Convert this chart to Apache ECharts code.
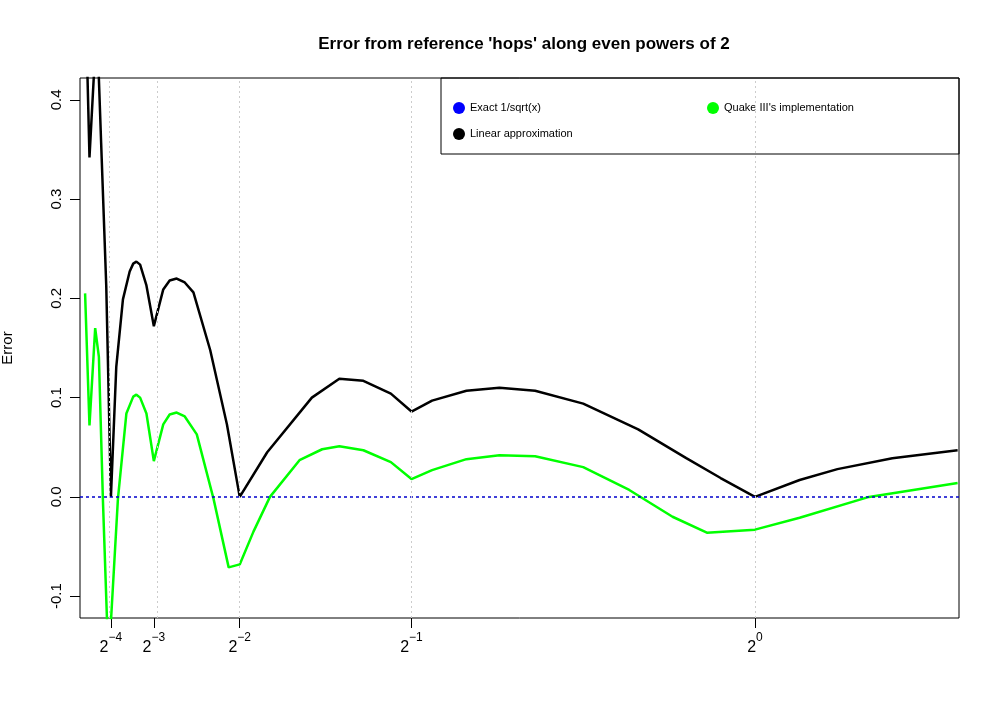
<!DOCTYPE html>
<html>
<head>
<meta charset="UTF-8">
<script src="https://cdn.jsdelivr.net/npm/echarts@6/dist/echarts.min.js"></script>
<style>html,body{margin:0;padding:0;background:#fff}#c{width:1000px;height:715px}</style>
</head>
<body>
<div id="c"></div>
<script>
// values
const linearX = [0.0264,0.0313,0.0420,0.0483,0.0557,0.0625,0.0703,0.0800,0.0898,0.0950,0.0996,0.1050,0.1142,0.1250,0.1387,0.1480,0.1582,0.1700,0.1826,0.2070,0.2314,0.25,0.29,0.355,0.395,0.43,0.47,0.5,0.53,0.58,0.628,0.68,0.75,0.83,0.9,0.95,1.0,1.065,1.12,1.2,1.295];
const linearY = [0.48,0.342,0.48,0.356,0.213,0.0,0.131,0.199,0.227,0.235,0.237,0.234,0.213,0.172,0.209,0.218,0.220,0.216,0.206,0.148,0.073,0.0,0.045,0.100,0.119,0.117,0.104,0.086,0.097,0.107,0.110,0.107,0.094,0.068,0.039,0.019,0.0,0.017,0.028,0.039,0.047];
const quakeX = [0.0249,0.0313,0.0396,0.0450,0.0508,0.0566,0.0600,0.0630,0.0727,0.0850,0.0950,0.0996,0.1050,0.1142,0.1250,0.1387,0.1480,0.1582,0.1700,0.1875,0.2119,0.2339,0.25,0.27,0.294,0.337,0.37,0.395,0.43,0.47,0.5,0.53,0.58,0.628,0.68,0.75,0.817,0.88,0.93,1.0,1.065,1.166,1.295];
const quakeY = [0.205,0.072,0.170,0.141,-0.002,-0.12,-0.2,-0.12,-0.002,0.084,0.101,0.103,0.100,0.084,0.036,0.073,0.083,0.085,0.081,0.063,-0.002,-0.071,-0.068,-0.035,0.0,0.037,0.048,0.051,0.047,0.035,0.018,0.027,0.038,0.042,0.041,0.030,0.007,-0.020,-0.036,-0.033,-0.021,0.0,0.014];
const xTicks = [0.0625,0.125,0.25,0.5,1];
const xTickLabels = ['−4','−3','−2','−1','0'];
const yTicks = [-0.1,0,0.1,0.2,0.3,0.4];

const zip = (a,b)=>a.map((v,i)=>[v,b[i]]);
const chart = echarts.init(document.getElementById('c'));
const font = 'Liberation Sans, Arial, sans-serif';
chart.setOption({
  animation:false,
  title:{text:"Error from reference 'hops' along even powers of 2",left:519,top:31,textAlign:'center',
    textStyle:{fontFamily:font,fontSize:17,fontWeight:'bold',color:'#000'}},
  grid:{left:80,right:41,top:78,bottom:97,show:true,borderColor:'#000',borderWidth:1,outerBoundsMode:'none',containLabel:false},
  legend:[
    {data:['Exact 1/sqrt(x)'],left:448,top:97,icon:'circle',itemWidth:12,itemHeight:12,textStyle:{fontFamily:font,fontSize:11,color:'#000'}},
    {data:['Quake III\'s implementation'],left:702,top:97,icon:'circle',itemWidth:12,itemHeight:12,textStyle:{fontFamily:font,fontSize:11,color:'#000'}},
    {data:['Linear approximation'],left:448,top:123,icon:'circle',itemWidth:12,itemHeight:12,textStyle:{fontFamily:font,fontSize:11,color:'#000'}}
  ],
  graphic:[{type:'rect',shape:{x:441,y:78,width:518,height:76},style:{fill:'none',stroke:'#000',lineWidth:1},z:100}],
  xAxis:{type:'value',min:0.0175,max:1.297,
    axisLine:{show:false,onZero:false},splitLine:{show:false},
    axisTick:{show:true,length:10,customValues:xTicks,lineStyle:{color:'#000'}},
    axisLabel:{customValues:xTicks,margin:14,fontFamily:font,
      formatter:v=>{const i=xTicks.findIndex(t=>Math.abs(t-v)<1e-9);return '{b|2}{s|'+xTickLabels[i]+'}';},
      rich:{b:{fontSize:16,fontFamily:font,color:'#000',padding:[8,0,0,0]},s:{fontSize:12,fontFamily:font,color:'#000',verticalAlign:'top',padding:[0,0,8,0]}}}},
  yAxis:{type:'value',min:-0.122,max:0.422,name:'Error',nameLocation:'middle',nameGap:65,nameRotate:90,
    nameTextStyle:{fontFamily:font,fontSize:15,color:'#000'},
    axisLine:{show:false,onZero:false},splitLine:{show:false},
    axisTick:{show:true,length:10,customValues:yTicks,lineStyle:{color:'#000'}},
    axisLabel:{customValues:yTicks,rotate:90,margin:16,fontFamily:font,fontSize:15,color:'#000',
      formatter:v=>v.toFixed(1)}},
  series:[
    {name:'Exact 1/sqrt(x)',type:'line',data:[],itemStyle:{color:'#0000ff'},showSymbol:false,
      markLine:{silent:true,symbol:'none',label:{show:false},
        data:[{yAxis:0,lineStyle:{color:'#0000cc',type:[3,3],width:1.5}}].concat(
          xTicks.map(t=>({xAxis:t,lineStyle:{color:'#cccccc',type:[2,3],width:1}})))}},
    {name:'Quake III\'s implementation',type:'line',data:zip(quakeX,quakeY),showSymbol:false,
      itemStyle:{color:'#00ff00'},lineStyle:{color:'#00ff00',width:2.5}},
    {name:'Linear approximation',type:'line',data:zip(linearX,linearY),showSymbol:false,
      itemStyle:{color:'#000'},lineStyle:{color:'#000',width:2.5}}
  ]
});
</script>
</body>
</html>
